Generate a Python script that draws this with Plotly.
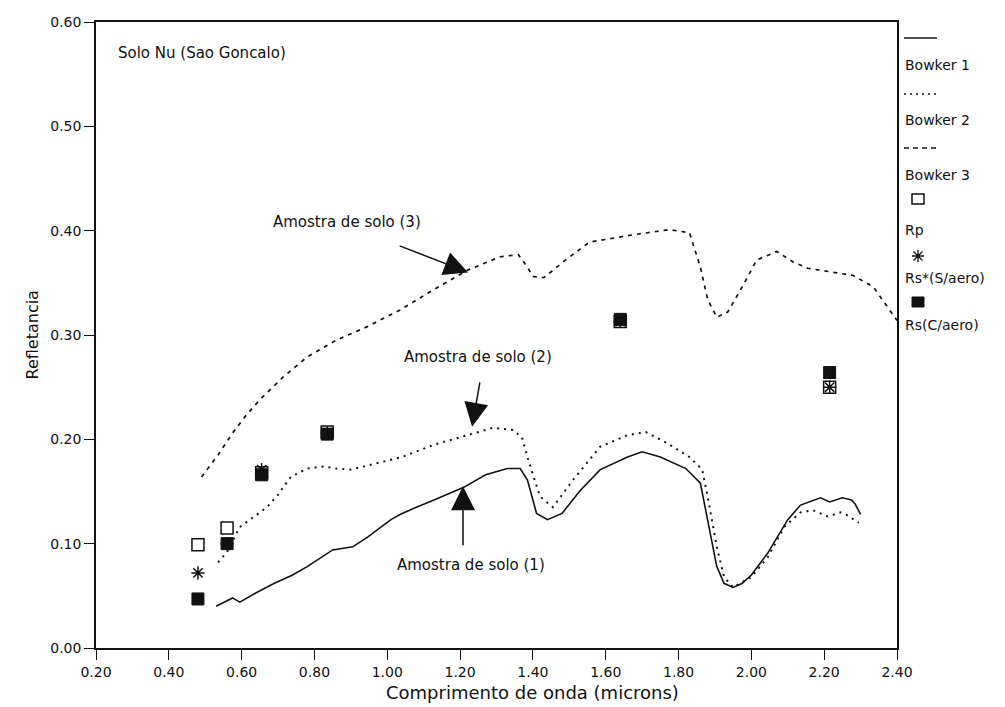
import plotly.graph_objects as go

# Spectral reflectance curves (wavelength in microns)
b1_wl = [0.53, 0.575, 0.595, 0.64, 0.69, 0.74, 0.78, 0.85, 0.905, 0.945, 1.01, 1.035, 1.08, 1.13,
         1.21, 1.27, 1.33, 1.365, 1.385, 1.41, 1.44, 1.48, 1.53, 1.585, 1.66, 1.70, 1.75, 1.82,
         1.86, 1.88, 1.905, 1.925, 1.95, 1.975, 2.0, 2.045, 2.10, 2.135, 2.19, 2.215, 2.25,
         2.275, 2.285, 2.30]
b1_refl = [0.040, 0.048, 0.044, 0.053, 0.062, 0.070, 0.078, 0.094, 0.097, 0.106, 0.123, 0.128,
           0.135, 0.142, 0.154, 0.166, 0.172, 0.172, 0.161, 0.129, 0.123, 0.129, 0.151, 0.171,
           0.183, 0.188, 0.183, 0.172, 0.158, 0.123, 0.078, 0.062, 0.058, 0.062, 0.070, 0.091,
           0.123, 0.137, 0.144, 0.140, 0.144, 0.142, 0.138, 0.128]

b2_wl = [0.535, 0.56, 0.595, 0.635, 0.67, 0.70, 0.735, 0.78, 0.825, 0.86, 0.90, 0.97, 1.04, 1.13,
         1.22, 1.29, 1.345, 1.37, 1.39, 1.42, 1.455, 1.51, 1.585, 1.66, 1.71, 1.77, 1.83, 1.865,
         1.88, 1.905, 1.925, 1.95, 2.0, 2.045, 2.09, 2.135, 2.17, 2.21, 2.245, 2.265, 2.295]
b2_refl = [0.082, 0.092, 0.116, 0.126, 0.135, 0.147, 0.164, 0.172, 0.174, 0.172, 0.171, 0.177,
           0.183, 0.195, 0.204, 0.211, 0.209, 0.202, 0.177, 0.145, 0.135, 0.161, 0.193, 0.204,
           0.207, 0.196, 0.183, 0.171, 0.145, 0.097, 0.068, 0.058, 0.068, 0.087, 0.116, 0.130,
           0.132, 0.126, 0.130, 0.127, 0.120]

b3_wl = [0.49, 0.535, 0.575, 0.61, 0.65, 0.715, 0.78, 0.86, 0.945, 1.035, 1.125, 1.22, 1.31, 1.36,
         1.385, 1.40, 1.43, 1.49, 1.555, 1.675, 1.775, 1.83, 1.86, 1.88, 1.905, 1.935, 1.97,
         2.015, 2.07, 2.115, 2.155, 2.225, 2.28, 2.335, 2.375, 2.40]
b3_refl = [0.164, 0.185, 0.206, 0.222, 0.238, 0.260, 0.279, 0.295, 0.308, 0.324, 0.343, 0.362,
           0.375, 0.377, 0.365, 0.356, 0.355, 0.372, 0.389, 0.396, 0.401, 0.398, 0.365, 0.334,
           0.317, 0.322, 0.343, 0.372, 0.380, 0.370, 0.364, 0.360, 0.357, 0.346, 0.327, 0.314]

# Band-center reflectances
band_wl = [0.48, 0.56, 0.655, 0.835, 1.64, 2.215]
rp = [0.099, 0.115, 0.168, 0.207, 0.313, 0.250]
rs_no_aero = [0.072, 0.100, 0.171, 0.206, 0.313, 0.250]
rs_aero = [0.047, 0.100, 0.166, 0.205, 0.315, 0.264]

x_ticks = [0.20, 0.40, 0.60, 0.80, 1.00, 1.20, 1.40, 1.60, 1.80, 2.00, 2.20, 2.40]
y_ticks = [0.00, 0.10, 0.20, 0.30, 0.40, 0.50, 0.60]

FONT = "DejaVu Sans"
INK = "#111111"

fig = go.Figure()
fig.add_trace(go.Scatter(x=b1_wl, y=b1_refl, mode="lines", name="Bowker 1",
                         line=dict(color=INK, width=1.6)))
fig.add_trace(go.Scatter(x=b2_wl, y=b2_refl, mode="lines", name="Bowker 2",
                         line=dict(color=INK, width=2, dash="2px,5px")))
fig.add_trace(go.Scatter(x=b3_wl, y=b3_refl, mode="lines", name="Bowker 3",
                         line=dict(color=INK, width=1.7, dash="4px,5px")))
fig.add_trace(go.Scatter(x=band_wl, y=rp, mode="markers", name="Rp",
                         marker=dict(symbol="square", size=12, color="white",
                                     line=dict(color=INK, width=1.5))))
fig.add_trace(go.Scatter(x=band_wl, y=rs_no_aero, mode="markers", name="Rs*(S/aero)",
                         marker=dict(symbol="asterisk-open", size=11, color=INK,
                                     line=dict(color=INK, width=1.5))))
fig.add_trace(go.Scatter(x=band_wl, y=rs_aero, mode="markers", name="Rs(C/aero)",
                         marker=dict(symbol="square", size=12, color=INK,
                                     line=dict(color=INK, width=1))))

# Plot area in pixels
L, R, T, B = 96, 897, 22, 648
W, H = 1005, 707


def px(xp):
    return (xp - L) / (R - L)


def py(yp):
    return (B - yp) / (B - T)


annotations = []
shapes = []

# Sample labels and pointer arrows
arrow_style = dict(showarrow=True, arrowhead=2, arrowsize=3.2, arrowwidth=1.5,
                   arrowcolor=INK, xref="x", yref="y", axref="x", ayref="y", text="",
                   standoff=0)
annotations += [
    dict(x=1.222, y=0.360, ax=1.03, ay=0.386, **arrow_style),
    dict(x=1.233, y=0.212, ax=1.255, ay=0.256, **arrow_style),
    dict(x=1.208, y=0.155, ax=1.208, ay=0.097, **arrow_style),
]
text_font = dict(family=FONT, size=15, color=INK)
common_txt = dict(showarrow=False, yanchor="middle")
annotations += [
    dict(x=0.89, y=0.408, text="Amostra de solo (3)", xref="x", yref="y",
         font=text_font, **common_txt),
    dict(x=1.25, y=0.279, text="Amostra de solo (2)", xref="x", yref="y",
         font=text_font, **common_txt),
    dict(x=1.23, y=0.080, text="Amostra de solo (1)", xref="x", yref="y",
         font=text_font, **common_txt),
    dict(x=px(116), y=py(53), text="Solo Nu (Sao Goncalo)", xref="paper",
         yref="paper", xanchor="left", font=text_font, **common_txt),
    dict(x=px(532), y=py(692), text="Comprimento de onda (microns)",
         xref="paper", yref="paper", font=dict(family=FONT, size=18, color=INK), **common_txt),
    dict(x=px(20), y=py(335), text="Refletancia", textangle=-90,
         xref="paper", yref="paper", font=dict(family=FONT, size=16, color=INK), **common_txt),
]

# Legend: sample above its label
legend_labels = [("Bowker 1", 65), ("Bowker 2", 120), ("Bowker 3", 175),
                 ("Rp", 230), ("Rs*(S/aero)", 278), ("Rs(C/aero)", 325)]
for label, yp in legend_labels:
    annotations.append(dict(x=px(903), y=py(yp), text=label, xref="paper",
                            yref="paper", xanchor="left",
                            font=dict(family=FONT, size=14, color=INK), **common_txt))

for dash, yp in [("solid", 38), ("2px,4px", 94), ("5px,4px", 148)]:
    shapes.append(dict(type="line", xref="paper", yref="paper", x0=px(904), x1=px(937),
                       y0=py(yp), y1=py(yp), line=dict(color=INK, width=1.5, dash=dash)))

cx = px(918)
# open square, asterisk, filled square
shapes.append(dict(type="rect", xref="paper", yref="paper", xsizemode="pixel",
                   ysizemode="pixel", xanchor=cx, yanchor=py(199), x0=-6, x1=6, y0=-5, y1=5,
                   line=dict(color=INK, width=1.5), fillcolor="white"))
shapes.append(dict(type="path", xref="paper", yref="paper", xsizemode="pixel",
                   ysizemode="pixel", xanchor=cx, yanchor=py(256),
                   path="M -6 0 L 6 0 M 0 -6 L 0 6 M -4.5 -4.5 L 4.5 4.5 M -4.5 4.5 L 4.5 -4.5",
                   line=dict(color=INK, width=1.3)))
shapes.append(dict(type="rect", xref="paper", yref="paper", xsizemode="pixel",
                   ysizemode="pixel", xanchor=cx, yanchor=py(302), x0=-6, x1=6, y0=-5, y1=5,
                   line=dict(color=INK, width=1), fillcolor=INK))

axis_common = dict(showgrid=False, zeroline=False, showline=True, linecolor=INK, linewidth=1.5,
                   mirror=True, ticks="outside", ticklen=10, tickwidth=1.3, tickcolor=INK,
                   tickfont=dict(family=FONT, size=14, color=INK), tickformat=".2f")

fig.update_layout(
    width=W, height=H,
    margin=dict(l=L, r=W - R, t=T, b=H - B),
    paper_bgcolor="white", plot_bgcolor="white",
    showlegend=False,
    xaxis=dict(range=[0.20, 2.40], tickvals=x_ticks, **axis_common),
    yaxis=dict(range=[0.00, 0.60], tickvals=y_ticks, **axis_common),
    annotations=annotations,
    shapes=shapes,
)

fig.write_html("out.html")
